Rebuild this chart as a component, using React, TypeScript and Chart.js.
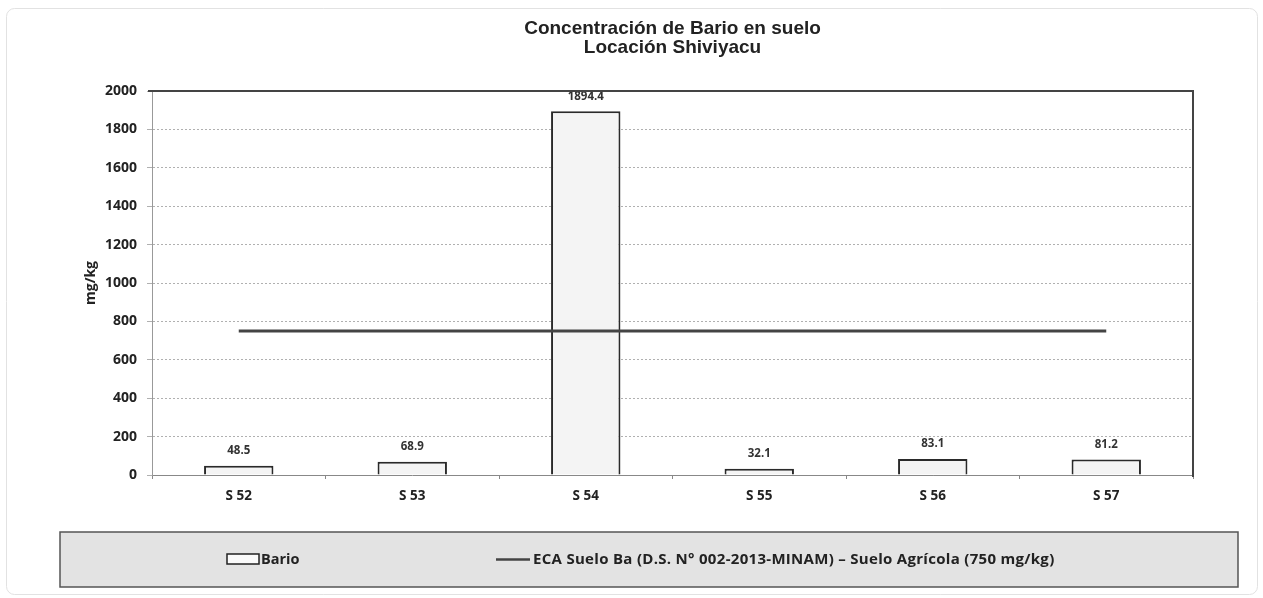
import React, { useEffect, useRef } from 'react';
import { Chart, registerables } from 'chart.js';

Chart.register(...registerables);

const categories = ['S 52', 'S 53', 'S 54', 'S 55', 'S 56', 'S 57'];
const barioValues = [48.5, 68.9, 1894.4, 32.1, 83.1, 81.2];
const ecaValues = [750, 750, 750, 750, 750, 750];
const titleLines = ['Concentración de Bario en suelo', 'Locación Shiviyacu'];
const yAxisTitle = 'mg/kg';
const barioLabel = 'Bario';
const ecaLabel = 'ECA Suelo Ba (D.S. N° 002-2013-MINAM) – Suelo Agrícola (750 mg/kg)';
const yMin = 0;
const yMax = 2000;
const yStep = 200;

const CAL = '"Open Sans", Lato, sans-serif';
const ARIAL = '"Liberation Sans", Arial, sans-serif';

const decorPlugin = {
  id: 'decor',
  beforeDraw(chart: any) {
    const { ctx, width, height } = chart;
    ctx.save();
    ctx.fillStyle = '#ffffff';
    ctx.fillRect(0, 0, width, height);
    ctx.strokeStyle = '#e2e2e2';
    ctx.lineWidth = 1;
    ctx.beginPath();
    (ctx as any).roundRect(6.5, 8.5, 1251, 586, 8);
    ctx.stroke();
    ctx.restore();
  },
  afterDatasetsDraw(chart: any) {
    const { ctx } = chart;
    const meta = chart.getDatasetMeta(1);
    const ds = chart.data.datasets[1];
    ctx.save();
    ctx.font = `bold 11.5px ${CAL}`;
    ctx.fillStyle = '#333';
    ctx.textAlign = 'center';
    ctx.textBaseline = 'middle';
    meta.data.forEach((el: any, i: number) => {
      ctx.fillText(String(ds.data[i]), el.x, el.y - 15);
    });
    ctx.restore();
  },
  afterDraw(chart: any) {
    const { ctx, chartArea } = chart;
    ctx.save();
    // plot top & right borders
    ctx.strokeStyle = '#444';
    ctx.lineWidth = 2;
    ctx.beginPath();
    ctx.moveTo(chartArea.left - 4, chartArea.top);
    ctx.lineTo(chartArea.right, chartArea.top);
    ctx.lineTo(chartArea.right, chartArea.bottom + 2);
    ctx.stroke();

    // title
    const cx = (chartArea.left + chartArea.right) / 2;
    ctx.fillStyle = '#222';
    ctx.textAlign = 'center';
    ctx.textBaseline = 'alphabetic';
    ctx.font = `bold 19px ${ARIAL}`;
    ctx.fillText(titleLines[0], cx, 34);
    ctx.fillText(titleLines[1], cx, 53);

    // legend box
    const lx = 60, ly = 532, lw = 1178, lh = 55;
    ctx.fillStyle = '#e3e3e3';
    ctx.fillRect(lx, ly, lw, lh);
    ctx.strokeStyle = '#555';
    ctx.lineWidth = 1.5;
    ctx.strokeRect(lx, ly, lw, lh);

    const barDs = chart.data.datasets[1];
    const lineDs = chart.data.datasets[0];
    const my = 559.5;
    ctx.fillStyle = '#fafafa';
    ctx.fillRect(227, 554, 32, 10);
    ctx.strokeStyle = '#222';
    ctx.lineWidth = 1.5;
    ctx.strokeRect(227, 554, 32, 10);
    ctx.font = `bold 14.5px ${CAL}`;
    ctx.fillStyle = '#222';
    ctx.textAlign = 'left';
    ctx.textBaseline = 'middle';
    ctx.fillText(barDs.label, 261, my);

    ctx.strokeStyle = lineDs.borderColor;
    ctx.lineWidth = 2.5;
    ctx.beginPath();
    ctx.moveTo(496, my);
    ctx.lineTo(530, my);
    ctx.stroke();
    ctx.font = `bold 15px ${CAL}`;
    (ctx as any).letterSpacing = '0.3px';
    ctx.fillText(lineDs.label, 533, my);
    ctx.restore();
  },
};

export default function App() {
  const ref = useRef<HTMLCanvasElement | null>(null);
  useEffect(() => {
    if (!ref.current) return;
    const chart = new Chart(ref.current, {
      type: 'bar',
      data: {
        labels: categories,
        datasets: [
          {
            type: 'line',
            label: ecaLabel,
            data: ecaValues,
            borderColor: '#444444',
            backgroundColor: '#444444',
            borderWidth: 3,
            pointRadius: 0,
            tension: 0,
            order: 0,
          } as any,
          {
            type: 'bar',
            label: barioLabel,
            data: barioValues,
            backgroundColor: '#f4f4f4',
            borderColor: '#2a2a2a',
            borderWidth: 2,
            barPercentage: 0.4,
            categoryPercentage: 1.0,
            order: 1,
          },
        ],
      },
      options: {
        responsive: false,
        animation: false,
        devicePixelRatio: 1,
        layout: { padding: { left: 83, right: 70, top: 91, bottom: 83 } },
        plugins: {
          legend: { display: false },
          title: { display: false },
          tooltip: { enabled: false },
        },
        scales: {
          x: {
            grid: { display: true, drawOnChartArea: false, tickLength: 4, color: '#888' },
            border: { color: '#888', width: 1 },
            ticks: { font: { family: CAL, weight: 'bold', size: 13.5 }, color: '#222', padding: 9 },
            afterFit: (s: any) => { s.height = 40; },
          },
          y: {
            min: yMin,
            max: yMax,
            ticks: {
              stepSize: yStep,
              font: { family: CAL, weight: 'bold', size: 14 },
              color: '#222',
              padding: 10,
              callback: (v: any) => String(v),
            },
            grid: { color: '#b0b0b0', tickLength: 5 },
            border: { color: '#999', width: 1, dash: [2, 2] },
            title: { display: true, text: yAxisTitle, font: { family: CAL, weight: 'bold', size: 14 }, color: '#222', padding: 0 },
            afterFit: (s: any) => { s.width = 69; },
          },
        },
      } as any,
      plugins: [decorPlugin],
    });
    return () => chart.destroy();
  }, []);
  return (
    <div style={{ position: 'absolute', left: 0, top: 0, width: 1263, height: 598 }}>
      <canvas ref={ref} width={1263} height={598} style={{ width: 1263, height: 598 }} />
    </div>
  );
}
